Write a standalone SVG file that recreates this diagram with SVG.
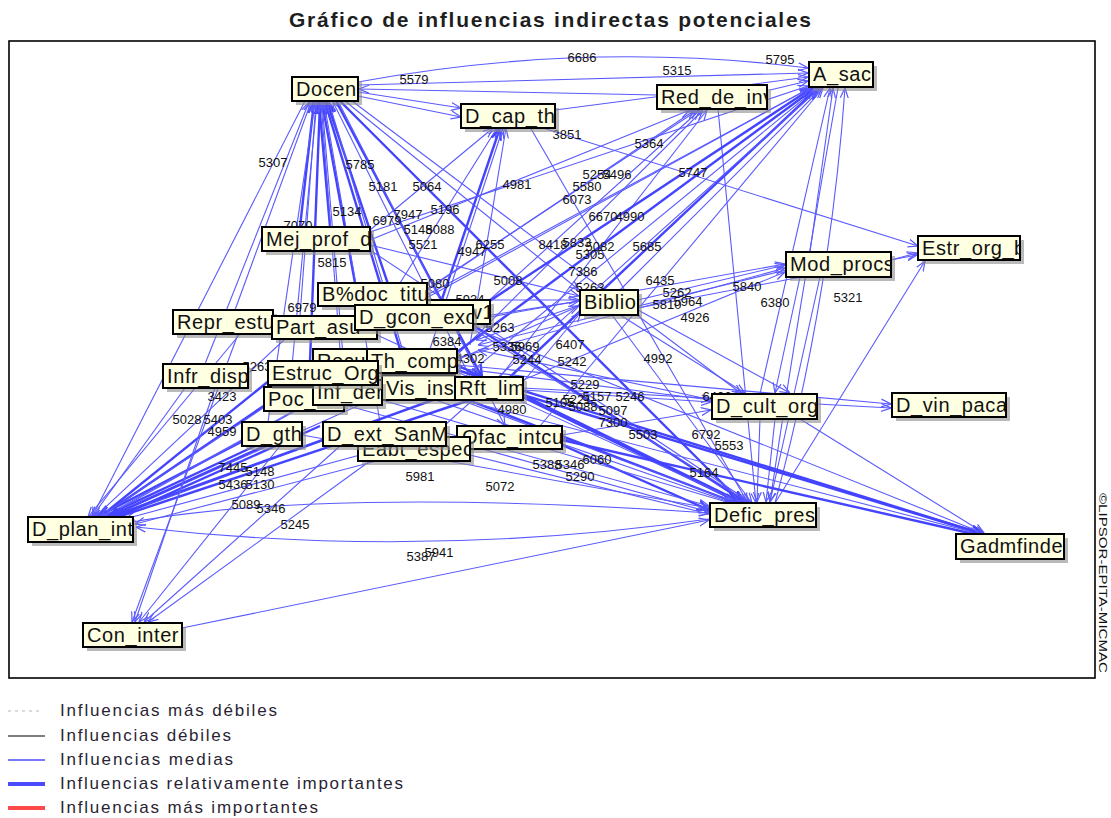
<svg xmlns="http://www.w3.org/2000/svg" width="1111" height="818" viewBox="0 0 1111 818">
<style>
.bx{fill:#ffffe1;stroke:#000;stroke-width:2}
.sh{fill:#8c8c8c;opacity:.6}
.nt{font-family:"Liberation Sans",Arial,sans-serif;font-size:20px;fill:#111;letter-spacing:0.6px}
.lb{font-family:"Liberation Sans",Arial,sans-serif;font-size:13px;fill:#111;text-anchor:middle}
.m{stroke:#5a5aff;stroke-width:1.1;fill:none;marker-end:url(#am)}
.r{stroke:#4444ff;stroke-width:2.4;fill:none;marker-end:url(#ar)}
.lg{font-family:"Liberation Sans",Arial,sans-serif;font-size:17px;fill:#2a1f33}
</style>
<defs>
<marker id="am" viewBox="0 0 10 10" refX="10" refY="5" markerWidth="10" markerHeight="10" markerUnits="userSpaceOnUse" orient="auto"><path d="M0,1 L10,5 L0,9" fill="none" stroke="#5a5aff" stroke-width="1.2"/></marker>
<marker id="ar" viewBox="0 0 10 10" refX="10" refY="5" markerWidth="12" markerHeight="12" markerUnits="userSpaceOnUse" orient="auto"><path d="M0,1 L10,5 L0,9" fill="none" stroke="#4444ff" stroke-width="2"/></marker>
</defs>
<rect width="1111" height="818" fill="#fff"/>
<text x="289" y="27" font-family="Liberation Sans,Arial,sans-serif" font-weight="bold" font-size="21" fill="#1e1e1e" textLength="522" lengthAdjust="spacing">Gráfico de influencias indirectas potenciales</text>
<rect x="9" y="41" width="1086" height="637" fill="none" stroke="#000" stroke-width="1.6"/>
<text transform="translate(1099,493) rotate(90)" font-family="Liberation Sans,Arial,sans-serif" font-size="11" fill="#111" textLength="180" lengthAdjust="spacingAndGlyphs">©LIPSOR-EPITA-MICMAC</text>

<g id="connectors">
<path class="r" d="M300,227 L314,102"/>
<path class="r" d="M330,227 L319,102"/>
<path class="r" d="M355,283 L322,102"/>
<path class="m" d="M300,316 L316,102"/>
<path class="r" d="M400,349 L325,102"/>
<path class="r" d="M310,361 L320,102"/>
<path class="m" d="M235,310 L311,102"/>
<path class="m" d="M205,364 L309,102"/>
<path class="r" d="M395,305 L327,102"/>
<path class="m" d="M340,349 L321,102"/>
<path class="m" d="M345,380 L322,102"/>
<path class="m" d="M410,375 L329,102"/>
<path class="m" d="M470,377 L333,102"/>
<path class="m" d="M268,422 L315,102"/>
<path class="m" d="M290,387 L317,102"/>
<path class="m" d="M380,422 L324,102"/>
<path class="m" d="M657,95 L359,89"/>
<path class="m" d="M305,101 L92,517"/>
<path class="r" d="M340,101 L742,503"/>
<path class="r" d="M336,101 L482,377"/>
<path class="m" d="M345,101 L579,290"/>
<path class="m" d="M338,101 L505,426"/>
<path class="m" d="M352,101 L742,394"/>
<path class="m" d="M358,92 L461,108"/>
<path class="m" d="M358,96 L461,117"/>
<path class="m" d="M358,85 L808,73"/>
<path class="m" d="M358,82 Q585,40 808,68"/>
<path class="m" d="M370,230 L493,128"/>
<path class="m" d="M400,283 L497,128"/>
<path class="r" d="M440,305 L500,128"/>
<path class="m" d="M430,349 L503,128"/>
<path class="m" d="M470,345 L506,128"/>
<path class="m" d="M555,110 L808,77"/>
<path class="m" d="M540,127 L918,246"/>
<path class="m" d="M530,127 L748,503"/>
<path class="m" d="M370,240 L690,110"/>
<path class="m" d="M427,290 L695,110"/>
<path class="m" d="M473,315 L700,110"/>
<path class="m" d="M457,355 L703,110"/>
<path class="m" d="M500,377 L707,110"/>
<path class="m" d="M377,322 L698,110"/>
<path class="m" d="M770,90 L808,81"/>
<path class="m" d="M718,109 L756,503"/>
<path class="r" d="M457,352 L815,88"/>
<path class="r" d="M473,312 L812,88"/>
<path class="r" d="M510,377 L818,88"/>
<path class="m" d="M427,295 L810,88"/>
<path class="m" d="M370,232 L808,86"/>
<path class="m" d="M620,290 L822,88"/>
<path class="m" d="M455,385 L817,88"/>
<path class="m" d="M445,425 L820,88"/>
<path class="m" d="M540,426 L823,88"/>
<path class="m" d="M760,394 L830,88"/>
<path class="m" d="M838,88 Q800,300 770,502"/>
<path class="m" d="M775,503 Q830,300 845,88"/>
<path class="m" d="M810,252 L833,88"/>
<path class="m" d="M377,325 L810,88"/>
<path class="m" d="M473,318 L579,301"/>
<path class="m" d="M457,360 L579,306"/>
<path class="m" d="M523,382 L581,312"/>
<path class="m" d="M370,245 L579,296"/>
<path class="m" d="M427,300 L579,300"/>
<path class="m" d="M638,300 L785,265"/>
<path class="m" d="M638,308 L917,255"/>
<path class="m" d="M620,315 L745,393"/>
<path class="m" d="M612,315 L752,503"/>
<path class="m" d="M638,310 L790,393"/>
<path class="m" d="M457,358 L785,268"/>
<path class="m" d="M523,380 L785,272"/>
<path class="m" d="M473,320 L785,264"/>
<path class="m" d="M891,260 L917,253"/>
<path class="m" d="M820,277 L770,502"/>
<path class="m" d="M800,277 L775,393"/>
<path class="m" d="M775,503 L925,261"/>
<path class="m" d="M457,365 L891,404"/>
<path class="m" d="M523,388 L891,408"/>
<path class="m" d="M523,390 L711,402"/>
<path class="m" d="M562,435 L711,410"/>
<path class="m" d="M457,368 L711,400"/>
<path class="m" d="M760,419 L757,502"/>
<path class="m" d="M775,419 L766,502"/>
<path class="m" d="M800,419 L984,533"/>
<path class="r" d="M457,365 L738,502"/>
<path class="r" d="M455,395 L736,503"/>
<path class="r" d="M523,395 L741,502"/>
<path class="r" d="M562,445 L709,510"/>
<path class="m" d="M470,455 L709,514"/>
<path class="m" d="M450,440 L709,512"/>
<path class="r" d="M473,325 L745,502"/>
<path class="m" d="M427,300 L748,502"/>
<path class="m" d="M382,400 L730,503"/>
<path class="m" d="M378,380 L732,503"/>
<path class="m" d="M377,335 L740,502"/>
<path class="m" d="M370,250 L750,502"/>
<path class="m" d="M302,435 L709,508"/>
<path class="m" d="M367,365 L734,502"/>
<path class="m" d="M345,405 L709,506"/>
<path class="m" d="M182,628 L709,520"/>
<path class="m" d="M133,522 C250,500 450,495 709,513"/>
<path class="m" d="M709,519 Q420,560 136,527"/>
<path class="r" d="M457,370 L983,534"/>
<path class="r" d="M523,395 L983,534"/>
<path class="m" d="M455,398 L980,534"/>
<path class="r" d="M562,440 L978,535"/>
<path class="m" d="M473,328 L985,534"/>
<path class="r" d="M245,440 L97,517"/>
<path class="r" d="M255,446 L103,517"/>
<path class="r" d="M270,380 L100,517"/>
<path class="r" d="M265,405 L100,517"/>
<path class="m" d="M315,400 L105,517"/>
<path class="m" d="M240,334 L88,517"/>
<path class="m" d="M185,388 L92,517"/>
<path class="m" d="M320,370 L100,517"/>
<path class="m" d="M325,440 L112,518"/>
<path class="m" d="M360,455 L125,519"/>
<path class="m" d="M457,440 L135,524"/>
<path class="m" d="M367,370 L103,517"/>
<path class="m" d="M285,339 L95,517"/>
<path class="m" d="M382,395 L110,517"/>
<path class="r" d="M300,430 L108,517"/>
<path class="r" d="M320,426 L115,518"/>
<path class="r" d="M455,392 L110,517"/>
<path class="r" d="M470,400 L115,518"/>
<path class="m" d="M238,334 L132,622"/>
<path class="m" d="M280,446 L139,622"/>
<path class="m" d="M340,446 L144,622"/>
<path class="m" d="M370,461 L148,622"/>
<path class="m" d="M215,388 L135,622"/>
<path class="m" d="M580,305 L476,340"/>
<path class="m" d="M786,270 L478,345"/>
<path class="m" d="M712,400 L478,350"/>
</g>

<g id="labels" class="lb">
<text x="582" y="62">6686</text><text x="414" y="84">5579</text><text x="677" y="75">5315</text><text x="780" y="64">5795</text>
<text x="567" y="139">3851</text><text x="649" y="148">5364</text><text x="693" y="177">5747</text><text x="273" y="167">5307</text>
<text x="360" y="169">5785</text><text x="383" y="191">5181</text><text x="427" y="191">5064</text><text x="517" y="189">4981</text>
<text x="597" y="179">5254</text><text x="617" y="179">5496</text><text x="587" y="191">5580</text><text x="577" y="204">6073</text>
<text x="603" y="221">6670</text><text x="630" y="221">4990</text><text x="347" y="216">5134</text><text x="387" y="225">6979</text>
<text x="408" y="219">7947</text><text x="445" y="214">5196</text><text x="418" y="234">5148</text><text x="440" y="234">5088</text>
<text x="423" y="249">5521</text><text x="490" y="249">6255</text><text x="472" y="256">4947</text><text x="553" y="249">8418</text>
<text x="577" y="247">5833</text><text x="600" y="251">5082</text><text x="590" y="259">5305</text><text x="647" y="251">5685</text>
<text x="298" y="230">7070</text><text x="332" y="267">5815</text><text x="583" y="276">7386</text><text x="508" y="285">5008</text>
<text x="435" y="288">5080</text><text x="660" y="285">6435</text><text x="590" y="292">5263</text><text x="677" y="297">5262</text>
<text x="667" y="309">5810</text><text x="688" y="306">5964</text><text x="695" y="322">4926</text><text x="747" y="291">5840</text>
<text x="775" y="307">6380</text><text x="848" y="302">5321</text><text x="302" y="312">6979</text><text x="470" y="304">5934</text>
<text x="500" y="332">5263</text><text x="447" y="346">6384</text><text x="507" y="351">5336</text><text x="525" y="351">5969</text>
<text x="570" y="349">6407</text><text x="527" y="364">5244</text><text x="572" y="366">5242</text><text x="658" y="363">4992</text>
<text x="470" y="363">4302</text><text x="585" y="389">5229</text><text x="577" y="404">5221</text><text x="597" y="401">5157</text>
<text x="630" y="401">5246</text><text x="560" y="407">5105</text><text x="583" y="411">5088</text><text x="613" y="415">5097</text>
<text x="512" y="414">4980</text><text x="613" y="427">7300</text><text x="643" y="439">5503</text><text x="717" y="401">6406</text>
<text x="706" y="439">6792</text><text x="729" y="450">5553</text><text x="704" y="477">5164</text><text x="597" y="464">6060</text>
<text x="547" y="469">5388</text><text x="570" y="469">5346</text><text x="580" y="481">5290</text><text x="420" y="481">5981</text>
<text x="500" y="491">5072</text><text x="257" y="371">5263</text><text x="222" y="401">3423</text><text x="187" y="424">5028</text>
<text x="218" y="424">5403</text><text x="222" y="436">4959</text><text x="233" y="472">7445</text><text x="260" y="476">5148</text>
<text x="233" y="489">5436</text><text x="260" y="489">5130</text><text x="246" y="509">5089</text><text x="271" y="513">5346</text>
<text x="295" y="529">5245</text><text x="421" y="561">5387</text><text x="439" y="557">5941</text>
</g>

<g id="n-docen"><rect class="sh" x="296" y="81" width="66" height="24"/><rect class="bx" x="292" y="77" width="66" height="24"/><svg x="292" y="77" width="66" height="24"><text class="nt" x="4" y="19">Docen</text></svg></g>
<g id="n-dcapth"><rect class="sh" x="465" y="108" width="94" height="24"/><rect class="bx" x="461" y="104" width="94" height="24"/><svg x="461" y="104" width="94" height="24"><text class="nt" x="4" y="19">D_cap_th</text></svg></g>
<g id="n-reddeinv"><rect class="sh" x="661" y="89" width="110" height="24"/><rect class="bx" x="657" y="85" width="110" height="24"/><svg x="657" y="85" width="110" height="24"><text class="nt" x="4" y="19">Red_de_inv</text></svg></g>
<g id="n-asac"><rect class="sh" x="813" y="66" width="64" height="25"/><rect class="bx" x="809" y="62" width="64" height="25"/><svg x="809" y="62" width="64" height="25"><text class="nt" x="4" y="19">A_sac</text></svg></g>
<g id="n-mejprofd"><rect class="sh" x="266" y="231" width="108" height="24"/><rect class="bx" x="262" y="227" width="108" height="24"/><svg x="262" y="227" width="108" height="24"><text class="nt" x="4" y="19">Mej_prof_d</text></svg></g>
<g id="n-estrorgb"><rect class="sh" x="922" y="240" width="102" height="24"/><rect class="bx" x="918" y="236" width="102" height="24"/><svg x="918" y="236" width="102" height="24"><text class="nt" x="4" y="19">Estr_org_b</text></svg></g>
<g id="n-modprocs"><rect class="sh" x="790" y="256" width="105" height="25"/><rect class="bx" x="786" y="252" width="105" height="25"/><svg x="786" y="252" width="105" height="25"><text class="nt" x="4" y="19">Mod_procs</text></svg></g>
<g id="n-biblio"><rect class="sh" x="584" y="294" width="58" height="25"/><rect class="bx" x="580" y="290" width="58" height="25"/><svg x="580" y="290" width="58" height="25"><text class="nt" x="4" y="19">Biblio</text></svg></g>
<g id="n-represtu"><rect class="sh" x="177" y="314" width="100" height="24"/><rect class="bx" x="173" y="310" width="100" height="24"/><svg x="173" y="310" width="100" height="24"><text class="nt" x="4" y="19">Repr_estu</text></svg></g>
<g id="n-v1"><rect class="sh" x="414" y="304" width="80" height="24"/><rect class="bx" x="410" y="300" width="80" height="24"/><svg x="410" y="300" width="80" height="24"><text class="nt" x="62" y="19">v1</text></svg></g>
<g id="n-bdoctitu"><rect class="sh" x="322" y="287" width="109" height="23"/><rect class="bx" x="318" y="283" width="109" height="23"/><svg x="318" y="283" width="109" height="23"><text class="nt" x="4" y="18">B%doc_titu</text></svg></g>
<g id="n-partasu"><rect class="sh" x="276" y="320" width="105" height="23"/><rect class="bx" x="272" y="316" width="105" height="23"/><svg x="272" y="316" width="105" height="23"><text class="nt" x="4" y="18">Part_asu</text></svg></g>
<g id="n-dgconexo"><rect class="sh" x="359" y="309" width="118" height="25"/><rect class="bx" x="355" y="305" width="118" height="25"/><svg x="355" y="305" width="118" height="25"><text class="nt" x="4" y="19">D_gcon_exo</text></svg></g>
<g id="n-recu"><rect class="sh" x="317" y="353" width="54" height="24"/><rect class="bx" x="313" y="349" width="54" height="24"/><svg x="313" y="349" width="54" height="24"><text class="nt" x="4" y="19">Recu</text></svg></g>
<g id="n-visins"><rect class="sh" x="386" y="379" width="73" height="25"/><rect class="bx" x="382" y="375" width="73" height="25"/><svg x="382" y="375" width="73" height="25"><text class="nt" x="4" y="20">Vis_ins</text></svg></g>
<g id="n-thcomp"><rect class="sh" x="371" y="353" width="90" height="24"/><rect class="bx" x="367" y="349" width="90" height="24"/><svg x="367" y="349" width="90" height="24"><text class="nt" x="4" y="19">Th_comp</text></svg></g>
<g id="n-rftlim"><rect class="sh" x="459" y="381" width="68" height="23"/><rect class="bx" x="455" y="377" width="68" height="23"/><svg x="455" y="377" width="68" height="23"><text class="nt" x="4" y="18">Rft_lim</text></svg></g>
<g id="n-poc"><rect class="sh" x="268" y="391" width="80" height="24"/><rect class="bx" x="264" y="387" width="80" height="24"/><svg x="264" y="387" width="80" height="24"><text class="nt" x="4" y="19">Poc_</text></svg></g>
<g id="n-infder"><rect class="sh" x="317" y="384" width="69" height="25"/><rect class="bx" x="313" y="380" width="69" height="25"/><svg x="313" y="380" width="69" height="25"><text class="nt" x="4" y="19">Inf_der</text></svg></g>
<g id="n-estrucorg"><rect class="sh" x="272" y="365" width="110" height="24"/><rect class="bx" x="268" y="361" width="110" height="24"/><svg x="268" y="361" width="110" height="24"><text class="nt" x="4" y="19">Estruc_Org</text></svg></g>
<g id="n-infrdisp"><rect class="sh" x="167" y="368" width="85" height="24"/><rect class="bx" x="163" y="364" width="85" height="24"/><svg x="163" y="364" width="85" height="24"><text class="nt" x="4" y="19">Infr_disp</text></svg></g>
<g id="n-dgth"><rect class="sh" x="246" y="426" width="60" height="24"/><rect class="bx" x="242" y="422" width="60" height="24"/><svg x="242" y="422" width="60" height="24"><text class="nt" x="4" y="19">D_gth</text></svg></g>
<g id="n-ofac"><rect class="sh" x="461" y="430" width="105" height="23"/><rect class="bx" x="457" y="426" width="105" height="23"/><svg x="457" y="426" width="105" height="23"><text class="nt" x="5" y="18">Ofac_intcu</text></svg></g>
<g id="n-eabt"><rect class="sh" x="362" y="441" width="112" height="24"/><rect class="bx" x="358" y="437" width="112" height="24"/><svg x="358" y="437" width="112" height="24"><text class="nt" x="4" y="19">Eabt_espec</text></svg></g>
<g id="n-dextsanm"><rect class="sh" x="327" y="426" width="123" height="24"/><rect class="bx" x="323" y="422" width="123" height="24"/><svg x="323" y="422" width="123" height="24"><text class="nt" x="4" y="19">D_ext_SanM</text></svg></g>
<g id="n-dcultorg"><rect class="sh" x="716" y="398" width="105" height="25"/><rect class="bx" x="712" y="394" width="105" height="25"/><svg x="712" y="394" width="105" height="25"><text class="nt" x="4" y="19">D_cult_org</text></svg></g>
<g id="n-dvinpaca"><rect class="sh" x="896" y="397" width="114" height="24"/><rect class="bx" x="892" y="393" width="114" height="24"/><svg x="892" y="393" width="114" height="24"><text class="nt" x="4" y="19">D_vin_paca</text></svg></g>
<g id="n-deficpres"><rect class="sh" x="714" y="507" width="106" height="24"/><rect class="bx" x="710" y="503" width="106" height="24"/><svg x="710" y="503" width="106" height="24"><text class="nt" x="4" y="19">Defic_pres</text></svg></g>
<g id="n-gadmfindef"><rect class="sh" x="960" y="538" width="108" height="25"/><rect class="bx" x="956" y="534" width="108" height="25"/><svg x="956" y="534" width="108" height="25"><text class="nt" x="4" y="19">Gadmfindef</text></svg></g>
<g id="n-dplanint"><rect class="sh" x="32" y="521" width="105" height="25"/><rect class="bx" x="28" y="517" width="105" height="25"/><svg x="28" y="517" width="105" height="25"><text class="nt" x="4" y="19">D_plan_int</text></svg></g>
<g id="n-coninter"><rect class="sh" x="87" y="627" width="99" height="24"/><rect class="bx" x="83" y="623" width="99" height="24"/><svg x="83" y="623" width="99" height="24"><text class="nt" x="4" y="19">Con_inter</text></svg></g>

<g id="legend">
<line x1="8" y1="711" x2="40" y2="711" stroke="#b8b8b8" stroke-width="1.2" stroke-dasharray="3,4"/>
<line x1="8" y1="736" x2="45" y2="736" stroke="#555" stroke-width="1.5"/>
<line x1="8" y1="760" x2="45" y2="760" stroke="#4a4aff" stroke-width="1.5"/>
<line x1="8" y1="784" x2="45" y2="784" stroke="#4a4aff" stroke-width="4"/>
<line x1="8" y1="808" x2="45" y2="808" stroke="#ff4a4a" stroke-width="4"/>
<text class="lg" x="60" y="716" textLength="217" lengthAdjust="spacing">Influencias más débiles</text>
<text class="lg" x="60" y="741" textLength="171" lengthAdjust="spacing">Influencias débiles</text>
<text class="lg" x="60" y="765" textLength="173" lengthAdjust="spacing">Influencias medias</text>
<text class="lg" x="60" y="789" textLength="343" lengthAdjust="spacing">Influencias relativamente importantes</text>
<text class="lg" x="60" y="813" textLength="258" lengthAdjust="spacing">Influencias más importantes</text>
</g>
</svg>
